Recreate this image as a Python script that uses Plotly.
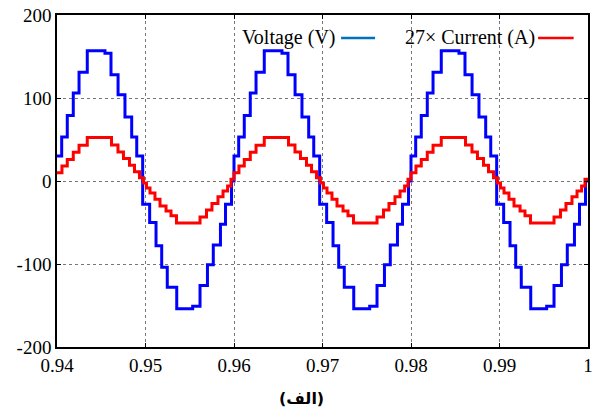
import plotly.graph_objects as go

# One 50 Hz period (20 ms) of the staircase waveforms, starting at t = 0.94 s.
# Each entry: switching instant (ms into the period) and the level held after it.
period_ms = 20.0
period_starts = [0.94, 0.96, 0.98]
t_end = 1.0

voltage_t_ms = [0.00, 0.53, 1.16, 1.84, 2.49, 3.42, 5.42, 6.10, 6.90, 7.68, 8.44, 9.01,
                9.68, 10.47, 11.19, 11.83, 12.46, 13.53, 15.33, 16.16, 17.00, 17.66,
                18.47, 19.04, 19.72]
voltage_v = [30, 53, 79, 106, 131, 157, 154, 128, 104, 77, 53, 30,
             -28, -50, -78, -104, -128, -154, -151, -126, -101, -77,
             -52, -28, 0]

current_t_ms = [0.00, 0.56, 1.16, 1.84, 2.49, 3.42, 6.16, 6.89, 7.51, 8.19, 8.76, 9.32,
                9.77, 10.11, 10.51, 11.07, 11.64, 12.32, 12.88, 13.50, 16.16, 16.89,
                17.51, 18.19, 18.76, 19.28, 19.66]
current_scaled_v = [10, 18, 26, 34.5, 43, 52.5, 43.5, 35, 27, 19, 11, 4,
                    -2.5, -8.5, -14.5, -22, -30, -36, -42, -50.5, -43.5, -35,
                    -27, -19, -12, -6, 2]

x_ticks = [0.94, 0.95, 0.96, 0.97, 0.98, 0.99, 1.0]
x_tick_text = ["0.94", "0.95", "0.96", "0.97", "0.98", "0.99", "1"]
y_ticks = [-200, -100, 0, 100, 200]
y_tick_text = ["-200", "-100", "0", "100", "200"]


def staircase(t_ms, values):
    xs, ys = [], []
    for start in period_starts:
        for tm, v in zip(t_ms, values):
            xs.append(start + tm / 1000.0)
            ys.append(v)
    xs.append(t_end)
    ys.append(values[-1])
    return xs, ys


vx, vy = staircase(voltage_t_ms, voltage_v)
cx, cy = staircase(current_t_ms, current_scaled_v)

SERIF = "Liberation Serif, Times New Roman, serif"

fig = go.Figure()
fig.add_trace(go.Scatter(x=vx, y=vy, mode="lines", line=dict(color="#0000FF", width=3, shape="hv"),
                         name="Voltage (V)", showlegend=False))
fig.add_trace(go.Scatter(x=cx, y=cy, mode="lines", line=dict(color="#FF0000", width=3, shape="hv"),
                         name="27× Current (A)", showlegend=False))

axis_common = dict(
    showline=True, linecolor="black", linewidth=1.5, mirror="ticks",
    ticks="inside", ticklen=4, tickwidth=1, tickcolor="black",
    showgrid=True, gridcolor="#777777", gridwidth=1, griddash="dot",
    zeroline=False, automargin=False,
    tickfont=dict(family=SERIF, size=19, color="black"),
)

fig.update_xaxes(range=[0.94, 1.0], tickvals=x_ticks, ticktext=x_tick_text, **axis_common)
fig.update_yaxes(range=[-200, 200], tickvals=y_ticks, ticktext=y_tick_text, **axis_common)

# Legend drawn as text followed by a line sample
fig.add_annotation(x=0.529, y=0.931, xref="paper", yref="paper", text="Voltage (V)",
                   showarrow=False, xanchor="right", yanchor="middle",
                   font=dict(family=SERIF, size=20, color="black"))
fig.add_shape(type="line", xref="paper", yref="paper", x0=0.535, x1=0.599, y0=0.931, y1=0.931,
              line=dict(color="#0072BD", width=2.5))
fig.add_annotation(x=0.904, y=0.931, xref="paper", yref="paper", text="27× Current (A)",
                   showarrow=False, xanchor="right", yanchor="middle",
                   font=dict(family=SERIF, size=20, color="black"))
fig.add_shape(type="line", xref="paper", yref="paper", x0=0.906, x1=0.973, y0=0.931, y1=0.931,
              line=dict(color="#FF0000", width=2.5))

# Panel caption
fig.add_annotation(x=0.461, y=-0.155, xref="paper", yref="paper", text="<b>(الف)</b>",
                   showarrow=False, xanchor="center", yanchor="middle",
                   font=dict(family="DejaVu Sans", size=16, color="black"))

fig.update_layout(
    width=597, height=416,
    margin=dict(l=57, r=9, t=15, b=69),
    paper_bgcolor="white", plot_bgcolor="white",
    showlegend=False,
)

fig.write_html("out.html")
